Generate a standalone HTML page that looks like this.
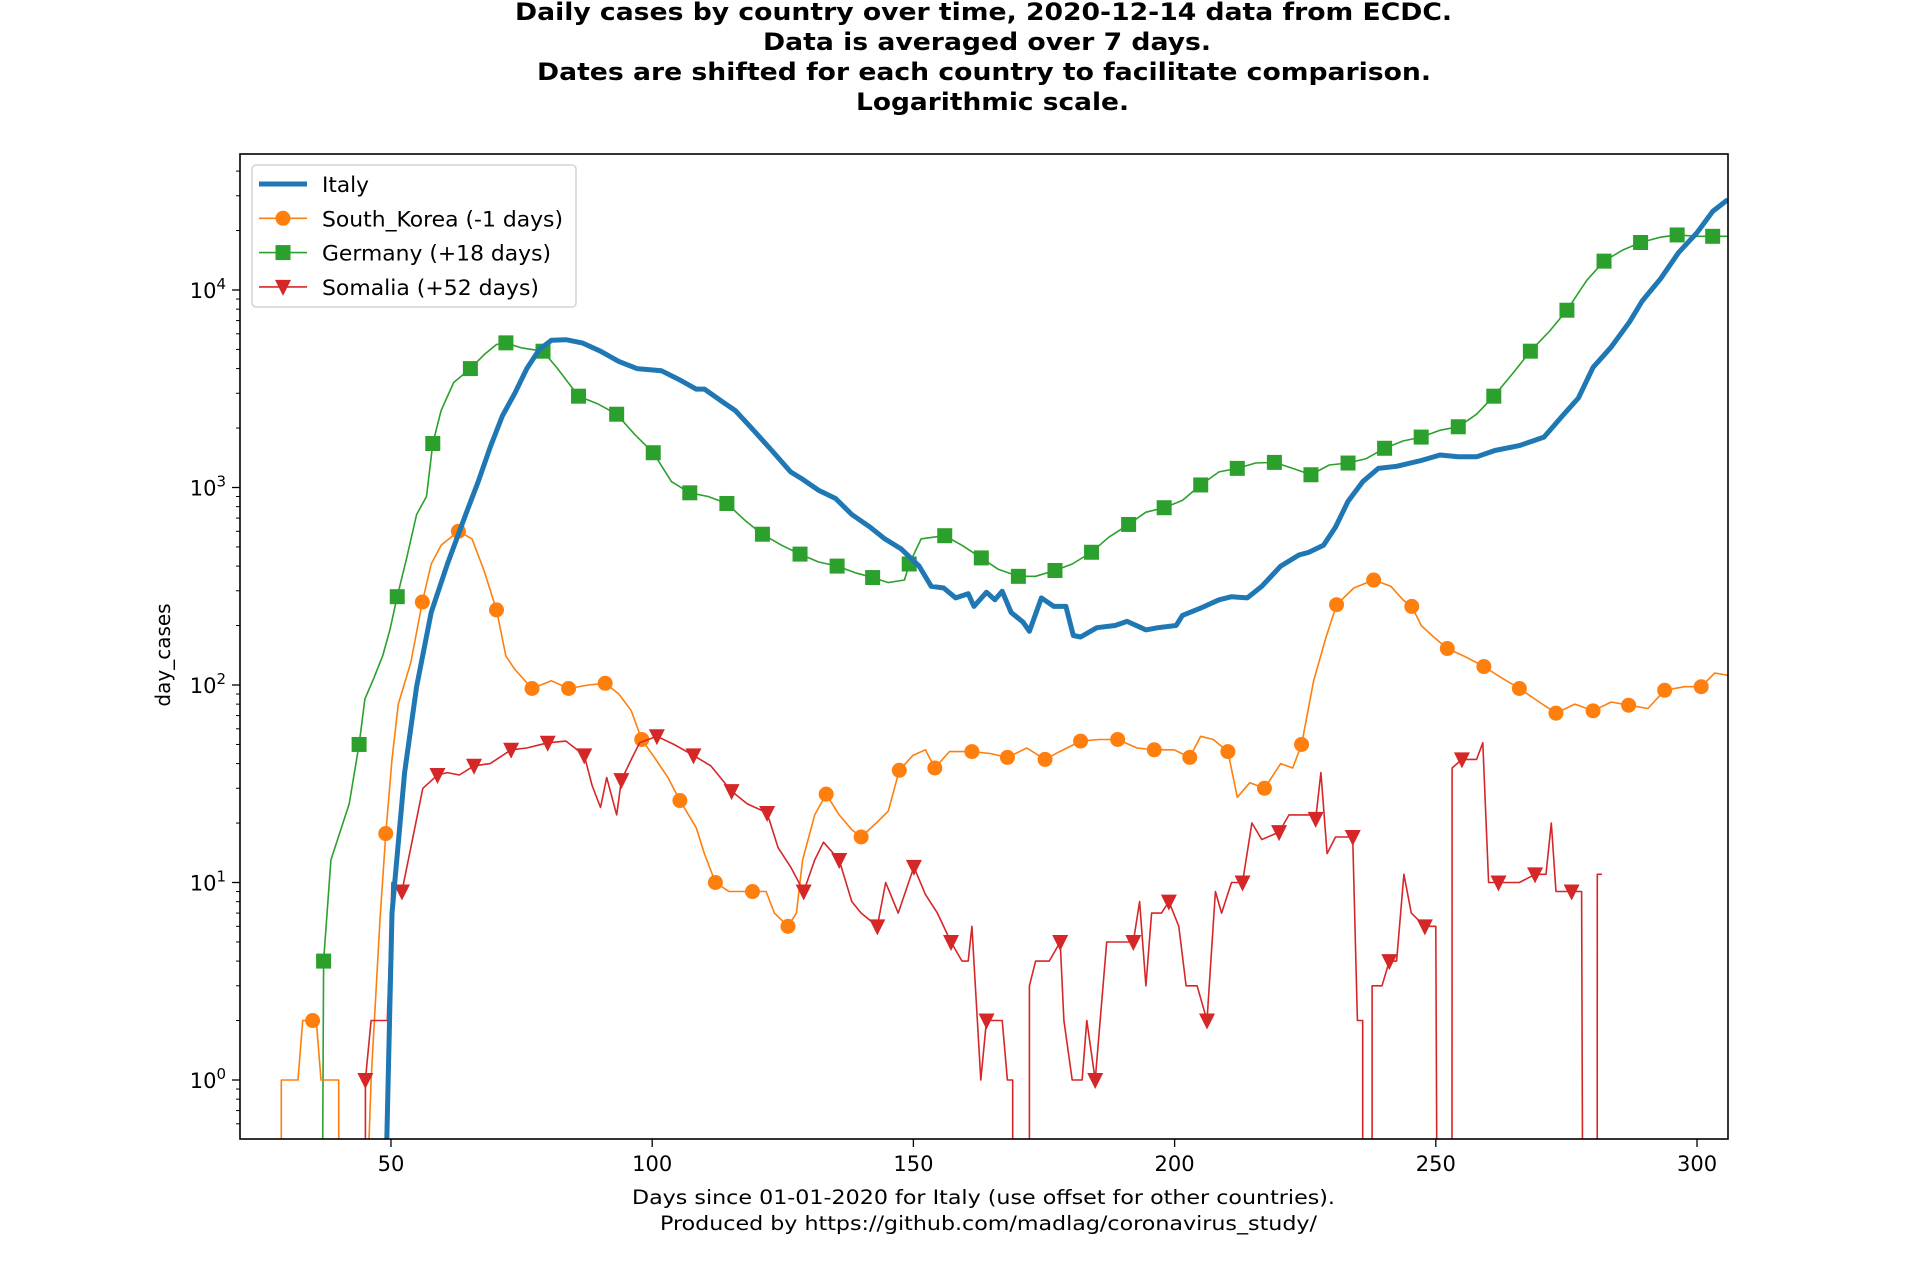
<!DOCTYPE html>
<html><head><meta charset="utf-8"><style>
html,body{margin:0;padding:0;background:#fff}
svg{display:block;font-family:"DejaVu Sans","Liberation Sans",sans-serif}
</style></head><body>
<svg id="chart" width="1920" height="1280" viewBox="0 0 1920 1280">
<defs><clipPath id="plotclip"><rect x="240" y="154" width="1488" height="985"/></clipPath></defs>
<g font-weight="bold" font-size="23.7" text-anchor="start" fill="#000">
<text x="515" y="20" textLength="937" lengthAdjust="spacingAndGlyphs">Daily cases by country over time, 2020-12-14 data from ECDC.</text>
<text x="763" y="50" textLength="448" lengthAdjust="spacingAndGlyphs">Data is averaged over 7 days.</text>
<text x="537" y="80" textLength="894" lengthAdjust="spacingAndGlyphs">Dates are shifted for each country to facilitate comparison.</text>
<text x="856" y="110" textLength="273" lengthAdjust="spacingAndGlyphs">Logarithmic scale.</text>
</g>
<g id="plot" clip-path="url(#plotclip)"></g>
<g id="axes"></g>
<rect x="240" y="154" width="1488" height="985" fill="none" stroke="#000" stroke-width="1.6"/>
<g font-size="19.8" text-anchor="start">
<text x="632" y="1204" textLength="703" lengthAdjust="spacingAndGlyphs">Days since 01-01-2020 for Italy (use offset for other countries).</text>
<text x="660" y="1230" textLength="657" lengthAdjust="spacingAndGlyphs">Produced by https://github.com/madlag/coronavirus_study/</text>
</g>
<text font-size="20" text-anchor="middle" transform="translate(170,655) rotate(-90)">day_cases</text>
<g id="legend"></g>
</svg>
<script>
const italyDays=[49,50.2,52.6,54.9,57.7,60.8,64.3,66.7,69,71.3,73.7,76,78.4,80.7,83.5,86.6,90.1,93.6,97.1,101.8,105.3,108.4,110,113.6,115.9,119.4,122.9,126.5,128.8,131.8,135.1,138.2,141.7,144.5,147.6,151.1,153.4,155.8,158.1,160.5,161.6,164,165.6,167,168.7,171,172.2,174.5,176.9,179.2,180.6,182,185.1,188.6,190.9,194.5,196.8,200.3,201.5,205,208.5,210.9,213.9,216.7,220.3,223.8,225.7,228.5,230.8,233.2,236,239,242.5,247.2,250.8,254.3,257.8,261.3,266,270.7,274.2,277.3,280.1,283.6,287.1,289.5,293,296.5,300,303,305.9];
const italyVals=[0.3,7,36,98,233,410,730,1070,1600,2300,3000,4000,5000,5560,5600,5400,4900,4350,4000,3900,3500,3150,3150,2700,2450,1950,1540,1200,1100,970,880,730,630,550,490,400,316,310,276,290,250,295,270,298,233,208,187,276,250,250,178,175,195,200,210,190,195,200,225,245,270,280,276,316,400,455,470,510,630,850,1070,1250,1280,1370,1460,1430,1430,1540,1630,1800,2300,2840,4060,5150,6900,8800,11400,15500,19500,25000,28700];
const koreaDays=[29,29.01,32.2,33.1,35.7,36.6,40,40.01,45.5,46.2,47.9,49,50.2,51.4,53.8,56,57.7,59.6,62.9,65.5,67.8,70.2,72,73.7,77,80.7,84,87.8,91,93.6,96,98,100.7,103,105.3,108.4,110,112.1,114.7,119.2,121.8,123.4,126,127.6,128.8,131.1,133.3,135.8,138.2,140,142.9,145.2,147.3,149.9,152.3,154.1,156.9,161.2,164.7,168,171.7,175.2,178,182,185.6,189.1,192.8,196.1,199.9,202.9,205,207.4,210.2,212,214.4,217.2,220.3,222.6,224.3,226.6,229,231,234.3,238.1,241.4,243.7,245.4,247.2,249.6,252.2,255.4,259.2,262.5,266,269.5,273,276.6,280.1,283.6,286.9,290.6,293.8,297.6,300.8,303.4,305.9];
const koreaVals=[0.3,1,1,2,2,1,1,0.3,0.3,1,6.5,17.7,42,80,130,263,410,510,600,550,380,240,140,120,96,105,96,100,102,90,74,53,42,34,26,19,14,10,9,9,9,7,6,7,13,22,28,22,18.5,17,20,23,37,44,47,38,46,46,45,43,48,42,46,52,53,53,48,47,47,43,55,53,46,27,32,30,40,38,50,105,175,255,310,340,316,270,250,200,175,153,140,124,109,96,83,72,80,74,82,79,76,94,98,98,115,112];
const koreaMarkDays=[35,49,56,62.9,70.2,77,84,91,98,105.3,112.1,119.2,126,133.3,140,147.3,154.1,161.2,168,175.2,182,189.1,196.1,202.9,210.2,217.2,224.3,231,238.1,245.4,252.2,259.2,266,273,280.1,286.9,293.8,300.8];
const koreaMarkVals=[2,17.7,263,600,240,96,96,102,53,26,10,9,6,28,17,37,38,46,43,42,52,53,47,43,46,30,50,255,340,250,153,124,96,72,74,79,94,98];
const germanyDays=[36.9,37.1,38.5,42,43.9,45,46.7,48.4,49.8,51.2,53,54.9,56.8,58,59.6,62,65.2,67.8,70.2,72,74.9,79.1,81.9,85.9,89.6,93.2,96.7,100.2,103.7,107.2,110.7,114.3,117.8,121.1,124.8,128.3,131.8,135.4,138.9,142.2,145.2,148.3,149.2,151.5,156,159.3,163,166.3,170.1,173.4,177.1,180.4,184.1,187.4,191.2,194.5,198,201.5,205,208.5,212,215.5,219.1,222.6,226.1,229.6,233.2,236.7,240.2,243.7,247.2,250.8,254.3,257.8,261.1,264.8,268.1,271.8,275.1,278.9,282.2,285.9,289.2,293,296.2,300,303,305.9];
const germanyVals=[0.3,4,13,25,50,85,108,140,190,280,440,730,900,1670,2450,3400,4000,4700,5300,5400,5100,4900,4000,2900,2650,2350,1850,1500,1070,940,900,830,680,580,510,460,420,400,370,350,330,340,410,550,570,510,440,385,355,355,380,410,470,560,650,750,790,860,1030,1200,1250,1330,1340,1250,1160,1300,1330,1400,1580,1720,1800,1950,2030,2350,2900,3800,4900,6200,7900,11200,14000,16000,17400,18500,19000,18700,18700,18700];
const germanyMarkDays=[37.1,43.9,51.2,58,65.2,72,79.1,85.9,93.2,100.2,107.2,114.3,121.1,128.3,135.4,142.2,149.2,156,163,170.1,177.1,184.1,191.2,198,205,212,219.1,226.1,233.2,240.2,247.2,254.3,261.1,268.1,275.1,282.2,289.2,296.2,303];
const germanyMarkVals=[4,50,280,1670,4000,5400,4900,2900,2350,1500,940,830,580,460,400,350,410,570,440,355,380,470,650,790,1030,1250,1340,1160,1330,1580,1800,2030,2900,4900,7900,14000,17400,19000,18700];
const somaliaDays=[45.1,45.1,46.2,49.3,50.2,52.1,53.8,56.1,57.3,58.9,60.8,63.1,65.9,69,73,76,80,83.5,87,88.5,90.1,91.3,93.2,94.1,96,97.6,100.9,104.2,107.9,111.2,115.2,118.2,122,124.1,126.5,129,131.1,132.8,135.8,138.2,140,143.1,144.7,147.1,150.1,152.3,154.6,157.2,159.3,160.5,161.2,162.9,164,167,168,169,169.01,172.2,172.21,173.4,176,178.1,178.8,180.4,182.3,183.2,184.8,187,192.1,193.3,194.5,195.6,197.5,198.9,200.8,202.2,204.3,206.2,207.8,209,210.9,213,214.8,216.7,220,221.9,226.1,227,228,229.2,230.8,234.1,235,236,236.01,237.8,237.81,239.7,241.1,242.5,243.9,245.3,247.9,250,250.2,253.1,253.11,255,257.8,259,260.1,262,266,269,271.1,272.1,273,276,277.9,278.1,280.9,280.91,281.8];
const somaliaVals=[0.3,1,2,2,10,9,15,30,32,35,36,35,39,40,47,48,51,52,44,31,24,34,22,33,42,51,55,50,44,39,29,25,22.5,15,12,9,13,16,13,8,7,6,10,7,12,8.7,7,5,4,4,6,1,2,2,1,1,0.3,0.3,3,4,4,5,2,1,1,2,1,5,5,8,3,7,7,8,6,3,3,2,9,7,10,10,20,16.5,18,22,22,21,36,14,17,17,2,2,0.3,0.3,3,3,4,4,11,7,6,6,0.3,0.3,38,42,42,51,10,10,10,11,11,20,9,9,9,0.3,0.3,11,11];
const somaliaMarkDays=[45.1,52.1,58.9,65.9,73,80,87,94.1,100.9,107.9,115.2,122,129,135.8,143.1,150.1,157.2,164,178.1,184.8,192.1,198.9,206.2,213,220,227,234.1,241.1,247.9,255,262,269,276];
const somaliaMarkVals=[1,9,35,39,47,51,44,33,55,44,29,22.5,9,13,6,12,5,2,5,1,5,8,2,10,18,21,17,4,6,42,10,11,9];
const xTicks=[50,100,150,200,250,300];
const yTickExps=[0,1,2,3,4];

const X0=240,X1=1728,Y0=154,Y1=1139;
const xMin=21.1,xMax=305.93;
const yZeroPx=1080,decadePx=197.5;
function xs(d){return X0+(d-xMin)/(xMax-xMin)*(X1-X0);}
function ys(v){return yZeroPx-Math.log10(Math.max(v,1e-3))*decadePx;}
const NS='http://www.w3.org/2000/svg';
const plot=document.getElementById('plot'),axes=document.getElementById('axes'),legend=document.getElementById('legend');
function mk(tag,attrs,parent){const e=document.createElementNS(NS,tag);for(const k in attrs)e.setAttribute(k,attrs[k]);parent.appendChild(e);return e;}
function drawLine(days,vals,color,w,name){
  const d=days.map((t,i)=>(i?'L':'M')+xs(t).toFixed(1)+','+ys(vals[i]).toFixed(1)).join(' ');
  const p=mk('path',{d:d,fill:'none',stroke:color,'stroke-width':w,'stroke-linejoin':'round'},plot);
  
  
}
function marker(type,cx,cy,color,parent){
  let e;
  if(type==='o')e=mk('circle',{cx:cx,cy:cy,r:7.5,fill:color},parent);
  else if(type==='s')e=mk('rect',{x:cx-7.5,y:cy-7.5,width:15,height:15,fill:color},parent);
  else e=mk('path',{d:`M${cx-8},${cy-7} L${cx+8},${cy-7} L${cx},${cy+9} Z`,fill:color},parent);
  return e;
}
function drawMarkers(days,vals,type,color,name){
  days.forEach((t,i)=>{
    const e=marker(type,xs(t),ys(vals[i]),color,plot);
    
    
  });
}
drawLine(germanyDays,germanyVals,'#2ca02c',1.6,'germany-line');
drawMarkers(germanyMarkDays,germanyMarkVals,'s','#2ca02c','germany-marker');
drawLine(koreaDays,koreaVals,'#ff7f0e',1.6,'south-korea-line');
drawMarkers(koreaMarkDays,koreaMarkVals,'o','#ff7f0e','south-korea-marker');
drawLine(somaliaDays,somaliaVals,'#d62728',1.6,'somalia-line');
drawMarkers(somaliaMarkDays,somaliaMarkVals,'v','#d62728','somalia-marker');
drawLine(italyDays,italyVals,'#1f77b4',5,'italy-line');

xTicks.forEach(t=>{
  const x=xs(t);
  const l=mk('line',{x1:x,x2:x,y1:Y1,y2:Y1+8,stroke:'#000','stroke-width':1.3},axes);
  
  
  const tx=mk('text',{x:x,y:Y1+32,'font-size':21,'text-anchor':'middle'},axes);
  tx.textContent=t;
  
  
});
yTickExps.forEach(e=>{
  const y=ys(Math.pow(10,e));
  const l=mk('line',{x1:X0-8,x2:X0,y1:y,y2:y,stroke:'#000','stroke-width':1.3},axes);
  
  
  const tx=mk('text',{x:X0-14,y:y+8,'font-size':21,'text-anchor':'end'},axes);
  tx.innerHTML='10<tspan dy="-9" font-size="15">'+e+'</tspan>';
  
  
});
for(let e=-1;e<=4;e++){for(let m=2;m<=9;m++){const v=m*Math.pow(10,e);const y=ys(v);if(y<Y0||y>Y1)continue;
  const l=mk('line',{x1:X0-4,x2:X0,y1:y,y2:y,stroke:'#000','stroke-width':1},axes);
  
  
}}
// legend
const box=mk('rect',{x:252,y:165,width:324,height:142,rx:4,fill:'#fff','fill-opacity':0.85,stroke:'#ccc','stroke-width':1.3},legend);


const legLabels=['Italy','South_Korea (-1 days)','Germany (+18 days)','Somalia (+52 days)'];
const legWidths=[47,241,229,217];
const legItems=[['#1f77b4',5,null],['#ff7f0e',1.6,'o'],['#2ca02c',1.6,'s'],['#d62728',1.6,'v']];
legItems.forEach((it,i)=>{
  const y=184+i*34.3;
  const g=mk('g',{},legend);
  
  
  mk('line',{x1:259,x2:307,y1:y,y2:y,stroke:it[0],'stroke-width':it[1]},g);
  if(it[2])marker(it[2],283,y,it[0],g);
  const t=mk('text',{x:322,y:y+8,'font-size':21,textLength:legWidths[i],lengthAdjust:'spacingAndGlyphs'},g);
  t.textContent=legLabels[i];
});
</script>
</body></html>
